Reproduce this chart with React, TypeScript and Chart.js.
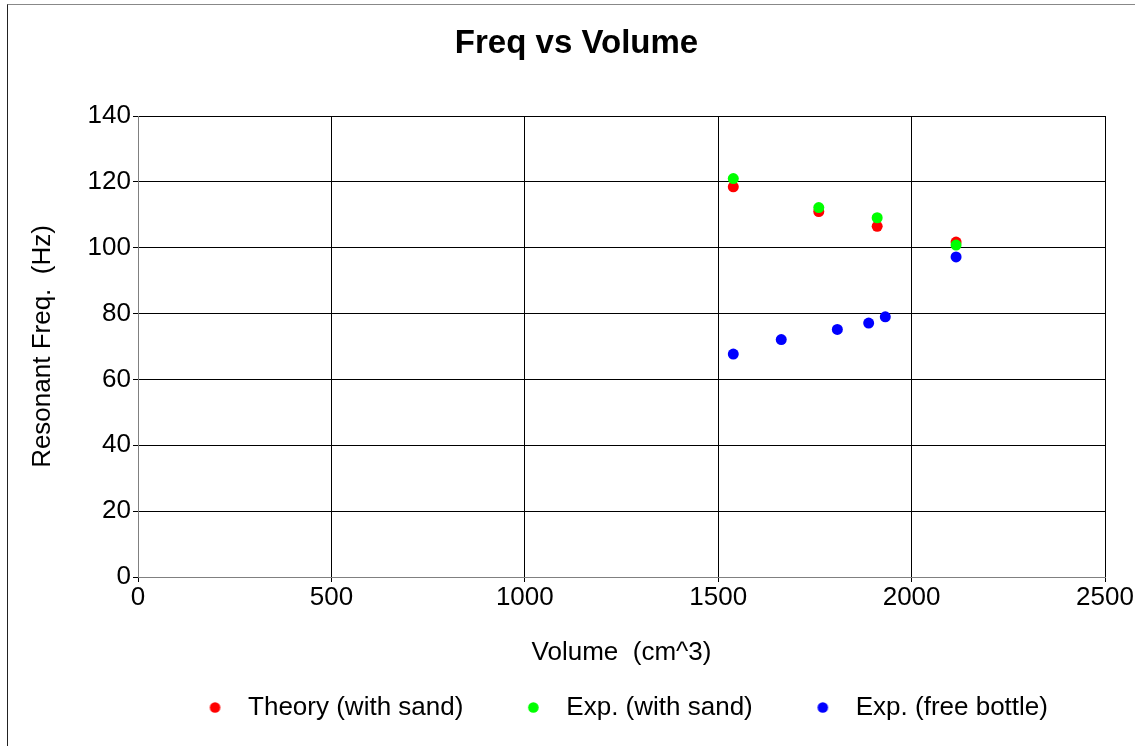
import React, { useEffect, useRef } from 'react';
import { Chart, registerables } from 'chart.js';

Chart.register(...registerables);

// ---- Chart text ----
const TITLE = 'Freq vs Volume';
const X_TITLE = 'Volume  (cm^3)';
const Y_TITLE = 'Resonant Freq.  (Hz)';
const SERIES_NAMES = ['Theory (with sand)', 'Exp. (with sand)', 'Exp. (free bottle)'];
const SERIES_COLORS = ['#FF0000', '#00FF00', '#0000FF'];

// ---- Data ----
const theoryVolume = [1539, 1760, 1911, 2115];
const theoryFreq = [118.5, 111.0, 106.5, 101.7];

const expSandVolume = [1539, 1760, 1911, 2115];
const expSandFreq = [121.0, 112.2, 109.1, 100.8];

const freeVolume = [1539, 1663, 1808, 1889, 1932, 2115];
const freeFreq = [67.7, 72.1, 75.2, 77.1, 79.0, 97.2];

// ---- Axis ranges / ticks ----
const X_MIN = 0;
const X_MAX = 2500;
const X_STEP = 500;
const Y_MIN = 0;
const Y_MAX = 140;
const Y_STEP = 20;

const toPoints = (xs: number[], ys: number[]) => xs.map((x, i) => ({ x, y: ys[i] }));

const makeDot = (color: string, r: number) => {
  const c = document.createElement('canvas');
  const size = 13;
  c.width = size;
  c.height = size;
  const ctx = c.getContext('2d');
  if (ctx) {
    ctx.fillStyle = color;
    ctx.beginPath();
    ctx.arc(size / 2, size / 2, r, 0, Math.PI * 2);
    ctx.fill();
  }
  return c;
};

export default function App() {
  const canvasRef = useRef<HTMLCanvasElement | null>(null);

  useEffect(() => {
    if (!canvasRef.current) return;
    Chart.defaults.font.family = "'Liberation Sans', Arial, Helvetica, sans-serif";
    Chart.defaults.color = '#000';

    const seriesData = [
      toPoints(theoryVolume, theoryFreq),
      toPoints(expSandVolume, expSandFreq),
      toPoints(freeVolume, freeFreq),
    ];
    const drawOrder = [2, 1, 0];
    const legendDots = SERIES_COLORS.map((c) => makeDot(c, 5.3));
    const defaultLabels = (Chart.defaults as any).plugins.legend.labels.generateLabels;

    const chart = new Chart(canvasRef.current, {
      type: 'scatter',
      data: {
        datasets: seriesData.map((d, i) => ({
          label: SERIES_NAMES[i],
          data: d,
          backgroundColor: SERIES_COLORS[i],
          borderColor: SERIES_COLORS[i],
          pointBackgroundColor: SERIES_COLORS[i],
          pointBorderWidth: 0,
          borderWidth: 0,
          pointRadius: 5.5,
          pointHoverRadius: 5.5,
          pointStyle: 'circle',
          order: drawOrder[i],
        })),
      },
      options: {
        animation: false,
        responsive: true,
        maintainAspectRatio: false,
        events: [],
        layout: { padding: { top: 0, left: 10, right: 0, bottom: 15.5 } },
        plugins: {
          title: {
            display: true,
            text: TITLE,
            color: '#000',
            font: { size: 33, weight: 'bold' },
            padding: { top: 18.7, bottom: 52.7 },
          },
          legend: {
            position: 'bottom',
            fullSize: false,
            labels: {
              usePointStyle: true,
              pointStyleWidth: 40,
              boxWidth: 26,
              boxHeight: 7.5,
              padding: 50,
              color: '#000',
              font: { size: 26 },
              generateLabels: (ch: any) =>
                defaultLabels(ch).map((l: any) => ({ ...l, pointStyle: legendDots[l.datasetIndex] })),
              sort: (a: any, b: any) => a.datasetIndex - b.datasetIndex,
            },
          },
          tooltip: { enabled: false },
        },
        scales: {
          x: {
            type: 'linear',
            min: X_MIN,
            max: X_MAX,
            ticks: {
              stepSize: X_STEP,
              padding: 0,
              color: '#000',
              font: { size: 26 },
              callback: (v: any) => String(v),
            },
            grid: { color: '#000', lineWidth: 1, tickLength: 5 },
            border: { color: '#808080', width: 1 },
            title: {
              display: true,
              text: X_TITLE,
              color: '#000',
              font: { size: 26 },
              padding: { top: 0, bottom: -23.6 },
            },
            afterFit: (s: any) => {
              s.height = 67.5;
              s.paddingRight = 30;
            },
          },
          y: {
            type: 'linear',
            min: Y_MIN,
            max: Y_MAX,
            ticks: {
              stepSize: Y_STEP,
              padding: 2,
              color: '#000',
              font: { size: 26 },
              callback: (v: any) => String(v),
            },
            grid: { color: '#000', lineWidth: 1, tickLength: 5 },
            border: { color: '#808080', width: 1 },
            title: {
              display: true,
              text: Y_TITLE,
              color: '#000',
              font: { size: 26 },
              padding: { top: 8.9, bottom: 0 },
            },
            afterFit: (s: any) => {
              s.width = 120;
            },
          },
        },
      } as any,
    });

    return () => {
      chart.destroy();
    };
  }, []);

  return (
    <div
      style={{
        position: 'fixed',
        left: 7,
        top: 4,
        width: 1127,
        height: 741,
        borderLeft: '1px solid #222',
        borderTop: '1px solid #888',
        background: '#fff',
      }}
    >
      <canvas ref={canvasRef} />
    </div>
  );
}
